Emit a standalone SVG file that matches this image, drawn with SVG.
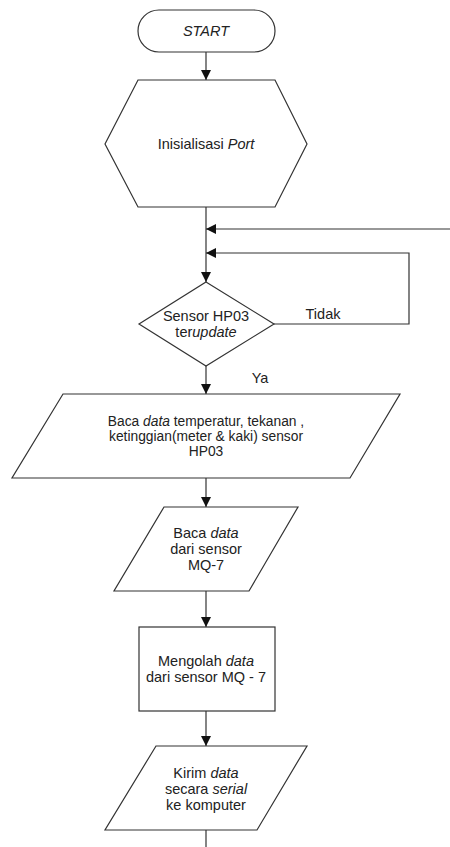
<svg xmlns="http://www.w3.org/2000/svg" width="450" height="847" viewBox="0 0 450 847">
<defs>
<marker id="ah" viewBox="0 0 10 10" refX="10" refY="5" markerWidth="10" markerHeight="10" markerUnits="userSpaceOnUse" orient="auto">
<path d="M0,0 L10,5 L0,10 z" fill="#111"/>
</marker>
<style>
.s{fill:#fff;stroke:#333;stroke-width:1.2}
.c{fill:none;stroke:#333;stroke-width:1.2}
text{font-family:"Liberation Sans",Arial,sans-serif;font-size:14.5px;fill:#222;text-anchor:middle}
.i{font-style:italic}
.sm{font-size:13.8px}
</style>
</defs>
<rect width="450" height="847" fill="#fff"/>
<g id="connectors">
<line class="c" x1="206" y1="52" x2="206" y2="80" marker-end="url(#ah)"/>
<line class="c" x1="206" y1="207" x2="206" y2="282" marker-end="url(#ah)"/>
<polyline class="c" points="450,229 206,229" marker-end="url(#ah)"/>
<polyline class="c" points="274,324 409,324 409,253 206,253" marker-end="url(#ah)"/>
<line class="c" x1="206" y1="366" x2="206" y2="394" marker-end="url(#ah)"/>
<line class="c" x1="206" y1="478" x2="206" y2="507" marker-end="url(#ah)"/>
<line class="c" x1="206" y1="591" x2="206" y2="627" marker-end="url(#ah)"/>
<line class="c" x1="206" y1="711" x2="206" y2="746" marker-end="url(#ah)"/>
<line class="c" x1="206" y1="830" x2="206" y2="847"/>
<text x="323" y="319">Tidak</text>
<text x="260" y="383">Ya</text>
</g>
<g id="start">
<rect class="s" x="138" y="10" width="137" height="42" rx="21"/>
<text class="i" x="206" y="36">START</text>
</g>
<g id="init">
<polygon class="s" points="138,80 275,80 307,144 275,207 138,207 105,144"/>
<text x="206" y="149">Inisialisasi <tspan class="i">Port</tspan></text>
</g>
<g id="decision">
<polygon class="s" points="206,282 274,324 206,366 139,324"/>
<text x="206" y="321">Sensor HP03</text>
<text x="206" y="337">ter<tspan class="i">update</tspan></text>
</g>
<g id="read-hp03">
<polygon class="s" points="63,394 400,394 350,478 12,478"/>
<text class="sm" x="206" y="426">Baca <tspan class="i">data</tspan> temperatur, tekanan ,</text>
<text class="sm" x="206" y="441">ketinggian(meter &amp; kaki) sensor</text>
<text class="sm" x="206" y="456">HP03</text>
</g>
<g id="read-mq7">
<polygon class="s" points="164,507 298,507 249,591 114,591"/>
<text x="206" y="538">Baca <tspan class="i">data</tspan></text>
<text x="206" y="554">dari sensor</text>
<text x="206" y="570">MQ-7</text>
</g>
<g id="process">
<rect class="s" x="139" y="627" width="136" height="84"/>
<text x="206" y="666">Mengolah <tspan class="i">data</tspan></text>
<text x="206" y="682">dari sensor MQ - 7</text>
</g>
<g id="send">
<polygon class="s" points="156,746 307,746 257,830 105,830"/>
<text x="206" y="778">Kirim <tspan class="i">data</tspan></text>
<text x="206" y="794">secara <tspan class="i">serial</tspan></text>
<text x="206" y="810">ke komputer</text>
</g>
</svg>
